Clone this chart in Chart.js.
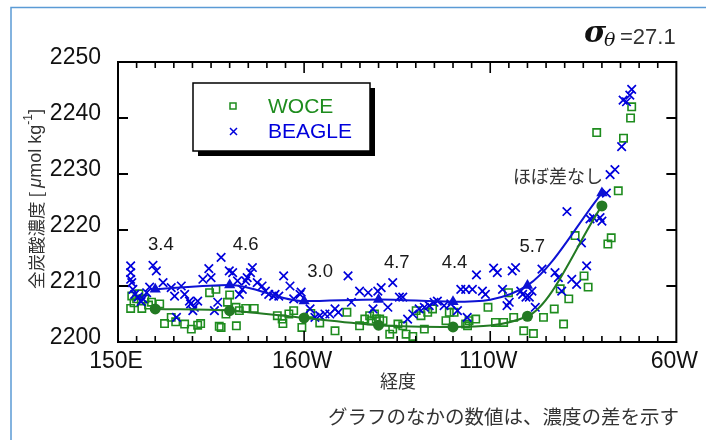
<!DOCTYPE html>
<html>
<head>
<meta charset="utf-8">
<script src="https://cdn.jsdelivr.net/npm/chart.js@4/dist/chart.umd.min.js"></script>
<style>
  html, body { margin: 0; padding: 0; background: #fff; }
</style>
</head>
<body>
<canvas id="myChart" width="706" height="440"></canvas>
<script>
// longitude is kept in degrees east: 150E = 150, 160W = 200, 110W = 250, 60W = 300
var xTickValues = [150, 200, 250, 300];
var xTickLabels = ['150E', '160W', '110W', '60W'];

// WOCE samples (green squares)
var woceLon = [153.4, 153.7, 154.3, 155.0, 155.6, 156.4, 157.2, 158.2, 159.0, 161.2,
    162.5, 164.3, 165.5, 167.9, 169.7, 171.4, 172.2,
    174.6, 176.3, 177.2, 177.7, 179.0, 179.4, 180.0, 181.7, 181.8, 182.6, 184.3, 186.6,
    192.8, 194.1, 194.3, 195.9, 197.2, 199.4, 201.8, 204.2, 208.3, 211.5, 214.9, 216.3,
    217.6, 218.0, 218.9, 219.4, 220.3, 221.2, 223.0, 223.8, 225.2, 226.5, 227.4, 229.2,
    230.1, 231.4, 232.3, 233.2, 234.5, 238.1, 239.0, 240.3,
    243.4, 243.9, 244.3, 246.1, 249.4, 251.4, 253.6, 254.9, 256.3, 259.0, 261.6, 264.3,
    267.2, 268.8, 269.7, 271.1, 272.8, 275.2, 276.3, 278.6, 281.6, 282.5, 284.4, 285.8,
    287.7, 288.0];
var woceVal = [2206.0, 2208.2, 2207.0, 2207.7, 2208.6, 2206.0, 2207.7, 2206.6, 2207.1, 2206.8,
    2203.3, 2204.4, 2203.6, 2203.2, 2202.3, 2203.0, 2203.3,
    2208.8, 2209.4, 2202.8, 2202.6, 2205.0, 2207.1, 2208.4, 2206.2, 2202.9, 2205.6, 2206.0, 2206.0,
    2204.7, 2204.1, 2203.3, 2205.0, 2205.6, 2202.6, 2205.1, 2203.4, 2202.0, 2205.3, 2202.9, 2204.1,
    2204.7, 2203.8, 2205.0, 2204.1, 2204.1, 2203.8, 2201.4, 2202.3, 2203.2, 2202.9, 2201.4, 2201.0,
    2205.6, 2204.7, 2202.3, 2205.3, 2205.9, 2203.8, 2205.3, 2205.3,
    2203.2, 2202.9, 2203.8, 2204.1, 2206.2, 2203.5, 2203.5, 2208.8, 2204.4, 2202.0, 2201.5, 2204.4,
    2205.9, 2209.5, 2203.2, 2207.7, 2219.0, 2211.8, 2209.8, 2237.4, 2217.5, 2218.6, 2227.0, 2236.4,
    2240.0, 2242.0];

// BEAGLE samples (blue crosses)
var beagleLon = [153.4, 153.4, 153.4, 153.7, 154.0, 154.5, 155.4, 156.2, 156.7, 157.7,
    158.5, 159.4, 160.3, 162.1, 164.3, 165.2, 165.7, 167.0, 167.9, 169.2,
    169.5, 170.5, 171.4, 170.1, 172.8, 174.4, 175.0, 177.7, 175.9, 176.8,
    179.9, 180.8, 182.1, 182.6, 183.4, 184.3, 184.7, 185.6, 186.1, 187.4,
    188.7, 189.6, 190.5, 191.8, 192.2, 193.2, 194.5, 196.2, 197.2, 198.9,
    199.2, 201.6, 202.9, 204.2, 205.6, 206.9, 208.3, 209.2, 211.8, 212.7, 214.9,
    217.2, 218.5, 219.8, 220.7, 222.5, 223.8, 225.6, 226.5, 227.8, 229.2,
    230.9, 232.3, 233.6, 234.9, 235.8, 237.6, 239.4, 241.2, 242.1, 243.4,
    243.8, 245.2, 246.3, 247.9, 248.7, 250.9, 251.9, 253.3, 254.5, 255.1,
    255.9, 256.8, 258.2, 258.7, 259.6, 260.5, 261.2, 262.1, 263.9, 267.4,
    268.3, 269.2, 270.6, 271.9, 273.2, 274.5, 275.9, 276.8, 277.7, 279.5,
    280.0, 281.2, 282.2, 283.5, 285.3, 285.7, 286.6, 287.5, 288.0];
var beagleVal = [2213.6, 2212.4, 2211.2, 2210.6, 2209.4, 2208.5, 2208.0, 2207.2, 2207.7, 2208.8,
    2209.8, 2213.7, 2212.7, 2210.6, 2209.7, 2208.2, 2204.4, 2210.0, 2208.5, 2207.3,
    2206.8, 2206.2, 2207.3, 2205.6, 2211.2, 2213.1, 2211.5, 2215.1, 2205.6, 2207.1,
    2212.7, 2212.4, 2210.9, 2208.5, 2209.4, 2210.9, 2211.5, 2212.4, 2213.3, 2210.6,
    2210.0, 2209.1, 2208.5, 2208.2, 2208.5, 2208.2, 2211.8, 2210.0, 2207.7, 2208.5,
    2208.9, 2205.9, 2204.4, 2204.7, 2205.0, 2205.0, 2205.9, 2205.3, 2211.8, 2207.1, 2209.1,
    2208.8, 2205.9, 2209.1, 2209.7, 2206.2, 2210.6, 2208.0, 2208.0, 2204.1, 2205.0,
    2205.9, 2206.2, 2206.5, 2207.1, 2207.3, 2206.5, 2206.8, 2205.6, 2209.4, 2209.4,
    2204.4, 2209.4, 2212.0, 2209.1, 2208.5, 2213.2, 2212.4, 2209.4, 2206.5, 2207.1,
    2212.7, 2213.3, 2209.1, 2208.5, 2208.0, 2208.0, 2209.1, 2206.2, 2213.0, 2212.4,
    2211.5, 2209.1, 2223.3, 2211.2, 2210.3, 2217.7, 2213.6, 2222.0, 2222.2, 2222.2,
    2221.6, 2226.6, 2229.9, 2230.8, 2234.9, 2243.2, 2242.9, 2244.1, 2245.1];

// smoothed curves through the 20-degree averages
var fitLon = [160, 180, 200, 220, 240, 260, 280];
var beagleFit = [2209.4, 2210.2, 2207.3, 2207.6, 2207.2, 2210.1, 2226.6];
var woceFit = [2205.9, 2205.6, 2204.3, 2203.0, 2202.7, 2204.6, 2224.3];

// concentration differences written on the plot
var diffLabels = ['3.4', '4.6', '3.0', '4.7', '4.4', '5.7', 'ほぼ差なし'];
var diffLon = [161.5, 184.3, 204.3, 224.9, 240.4, 261.3, 268.2];
var diffVal = [2217.3, 2217.3, 2212.6, 2214.1, 2214.1, 2217.0, 2229.6];

var GREEN = '#1e8c1e';
var GREEN_LINE = '#237a23';
var BLUE = '#0000dc';
var BLUE_LINE = '#0d12d4';
var LATIN = '"Liberation Sans", Arial, sans-serif';
var CJK = '"Noto Sans CJK JP", sans-serif';

function toPoints(xs, ys) {
    return xs.map(function (x, i) { return { x: x, y: ys[i] }; });
}

var decor = {
    id: 'decor',
    beforeDraw: function (chart) {
        var ctx = chart.ctx;
        ctx.save();
        ctx.fillStyle = '#fff';
        ctx.fillRect(0, 0, chart.width, chart.height);
        // light blue page frame (top and left)
        ctx.strokeStyle = '#5b9bd5';
        ctx.lineWidth = 1.5;
        ctx.beginPath();
        ctx.moveTo(11, chart.height);
        ctx.lineTo(11, 7.5);
        ctx.lineTo(chart.width, 7.5);
        ctx.stroke();
        ctx.restore();
    },
    afterDraw: function (chart) {
        var ctx = chart.ctx, a = chart.chartArea;
        var xs = chart.scales.x, ys = chart.scales.y;
        ctx.save();

        // plot frame with inward ticks
        ctx.strokeStyle = '#000';
        ctx.lineWidth = 2;
        ctx.strokeRect(a.left, a.top, a.right - a.left, a.bottom - a.top);
        ctx.lineWidth = 1.6;
        for (var v = xs.min + 5; v < xs.max; v += 5) {
            var px = xs.getPixelForValue(v);
            var len = (v % 50 === 0) ? 11 : 6;
            ctx.beginPath();
            ctx.moveTo(px, a.bottom); ctx.lineTo(px, a.bottom - len);
            ctx.moveTo(px, a.top); ctx.lineTo(px, a.top + len);
            ctx.stroke();
        }
        ctx.lineWidth = 2;
        ys.ticks.forEach(function (t) {
            if (t.value <= ys.min || t.value >= ys.max) return;
            var py = ys.getPixelForValue(t.value);
            ctx.beginPath();
            ctx.moveTo(a.left, py); ctx.lineTo(a.left + 10, py);
            ctx.moveTo(a.right, py); ctx.lineTo(a.right - 10, py);
            ctx.stroke();
        });

        // difference labels
        ctx.textAlign = 'center';
        ctx.textBaseline = 'middle';
        diffLabels.forEach(function (s, i) {
            var isText = /[^0-9.]/.test(s);
            ctx.font = isText ? '18px ' + CJK : '18.5px ' + LATIN;
            ctx.fillStyle = isText ? '#333' : '#1a1a1a';
            ctx.fillText(s, xs.getPixelForValue(diffLon[i]), ys.getPixelForValue(diffVal[i]));
        });

        // legend box with drop shadow
        var bx = 193, by = 83, bw = 177, bh = 68;
        ctx.fillStyle = '#000';
        ctx.fillRect(bx + 5, by + 5, bw, bh);
        ctx.fillStyle = '#fff';
        ctx.fillRect(bx, by, bw, bh);
        ctx.strokeStyle = '#000';
        ctx.lineWidth = 1.5;
        ctx.strokeRect(bx, by, bw, bh);

        var woceSet = chart.data.datasets[3], beagleSet = chart.data.datasets[2];
        ctx.lineWidth = 1.5;
        ctx.strokeStyle = woceSet.borderColor;
        ctx.strokeRect(230, 103, 6, 6);
        ctx.strokeStyle = beagleSet.borderColor;
        ctx.beginPath();
        ctx.moveTo(230, 128); ctx.lineTo(237, 135);
        ctx.moveTo(237, 128); ctx.lineTo(230, 135);
        ctx.stroke();
        ctx.textAlign = 'left';
        ctx.font = '21px ' + LATIN;
        ctx.fillStyle = woceSet.borderColor;
        ctx.fillText(woceSet.label, 268, 107);
        ctx.fillStyle = beagleSet.borderColor;
        ctx.fillText(beagleSet.label, 268, 132);

        // sigma-theta label
        ctx.textBaseline = 'alphabetic';
        ctx.fillStyle = '#111';
        ctx.font = 'italic bold 30px "DejaVu Serif", serif';
        ctx.fillText('σ', 584, 42);
        ctx.font = 'italic 19px "DejaVu Serif", serif';
        ctx.fillText('θ', 604, 46);
        ctx.fillStyle = '#333';
        ctx.font = '22px ' + LATIN;
        ctx.fillText('=27.1', 620, 44);

        // x title and footnote
        ctx.textBaseline = 'middle';
        ctx.textAlign = 'center';
        ctx.font = '18px ' + CJK;
        ctx.fillStyle = '#333';
        ctx.fillText('経度', 398, 381);
        ctx.textAlign = 'right';
        ctx.font = '19.5px ' + CJK;
        ctx.fillText('グラフのなかの数値は、濃度の差を示す', 679, 417);

        // y title, rotated, with italic mu and superscript -1
        var parts = [
            { s: '全炭酸濃度 [ ', f: '17.5px ' + CJK, dy: 0 },
            { s: 'μ', f: 'italic 18px ' + LATIN, dy: 0 },
            { s: 'mol kg', f: '18px ' + LATIN, dy: 0 },
            { s: '-1', f: '12px ' + LATIN, dy: -7 },
            { s: ']', f: '18px ' + LATIN, dy: 0 }
        ];
        var total = 0;
        parts.forEach(function (p) { ctx.font = p.f; p.w = ctx.measureText(p.s).width; total += p.w; });
        ctx.translate(36, 199);
        ctx.rotate(-Math.PI / 2);
        ctx.textAlign = 'left';
        ctx.textBaseline = 'middle';
        var cx = -total / 2;
        parts.forEach(function (p) {
            ctx.font = p.f;
            ctx.fillText(p.s, cx, p.dy);
            cx += p.w;
        });
        ctx.restore();
    }
};

var ctx = document.getElementById('myChart').getContext('2d');
var currentChart = new Chart(ctx, {
    type: 'scatter',
    data: {
        datasets: [{
            type: 'line',
            label: 'BEAGLE fit',
            data: toPoints(fitLon, beagleFit),
            borderColor: BLUE_LINE,
            backgroundColor: BLUE_LINE,
            borderWidth: 2,
            pointStyle: 'triangle',
            pointRadius: 6.5,
            pointBorderWidth: 0,
            cubicInterpolationMode: 'monotone'
        }, {
            type: 'line',
            label: 'WOCE fit',
            data: toPoints(fitLon, woceFit),
            borderColor: GREEN_LINE,
            backgroundColor: GREEN_LINE,
            borderWidth: 2,
            pointStyle: 'circle',
            pointRadius: 5.5,
            pointBorderWidth: 0,
            cubicInterpolationMode: 'monotone'
        }, {
            label: 'BEAGLE',
            data: toPoints(beagleLon, beagleVal),
            borderColor: BLUE,
            backgroundColor: BLUE,
            pointStyle: 'crossRot',
            pointRadius: 6,
            borderWidth: 1.7
        }, {
            label: 'WOCE',
            data: toPoints(woceLon, woceVal),
            borderColor: GREEN,
            backgroundColor: 'rgba(0,0,0,0)',
            pointStyle: 'rect',
            pointRadius: 5.2,
            borderWidth: 1.6
        }]
    },
    options: {
        responsive: false,
        animation: false,
        events: [],
        layout: { padding: { left: 0, right: 26, top: 62, bottom: 0 } },
        plugins: { legend: { display: false }, tooltip: { enabled: false } },
        scales: {
            x: {
                type: 'linear',
                min: 150,
                max: 300,
                grid: { display: false, drawTicks: false },
                border: { display: false },
                afterFit: function (scale) { scale.height = 98; },
                afterBuildTicks: function (scale) {
                    scale.ticks = xTickValues.map(function (v) { return { value: v }; });
                },
                ticks: {
                    autoSkip: false,
                    maxRotation: 0,
                    minRotation: 0,
                    padding: 6,
                    labelOffset: -2,
                    color: '#111',
                    font: { family: LATIN, size: 23 },
                    callback: function (value) {
                        var i = xTickValues.indexOf(value);
                        return i >= 0 ? xTickLabels[i] : '';
                    }
                }
            },
            y: {
                min: 2200,
                max: 2250,
                grid: { display: false, drawTicks: false },
                border: { display: false },
                afterFit: function (scale) { scale.width = 118; },
                ticks: {
                    stepSize: 10,
                    padding: 17,
                    labelOffset: -4,
                    color: '#111',
                    font: { family: LATIN, size: 23 },
                    callback: function (value) { return String(value); }
                }
            }
        }
    },
    plugins: [decor]
});
</script>
</body>
</html>
